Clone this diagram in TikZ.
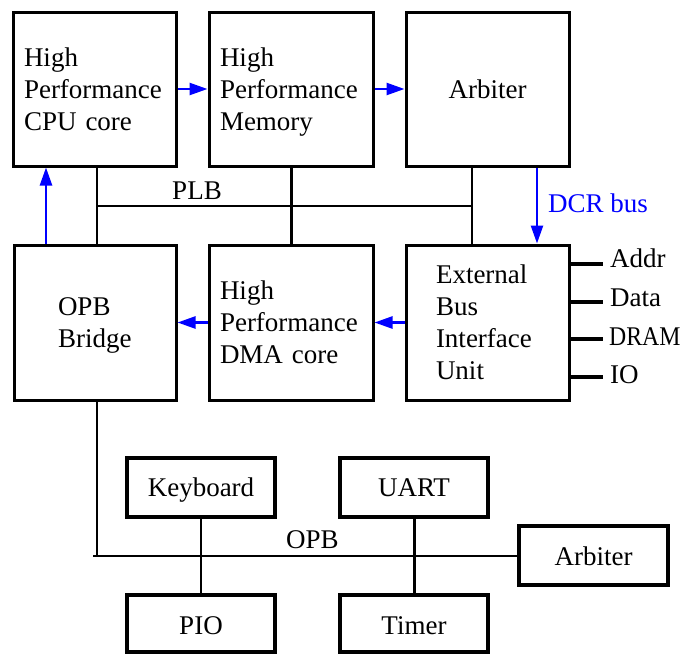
\documentclass[tikz,border=0pt]{standalone}
\usepackage{fontspec}
\setmainfont{Liberation Serif}
\usetikzlibrary{arrows.meta}
\begin{document}
\begin{tikzpicture}[x=1pt,y=-1pt,
  box/.style={draw, rectangle, line width=3pt, inner ysep=0pt,
    font=\fontsize{27}{32}\selectfont},
  onebox/.style={box, text depth=0pt},
  topbox/.style={box, minimum width=163pt, minimum height=154pt},
  midbox/.style={box, minimum width=163pt, minimum height=155pt},
  smallbox/.style={onebox, line width=3.5pt, minimum width=148pt, minimum height=59pt},
  lbl/.style={inner sep=0pt, font=\fontsize{27}{32}\selectfont},
  bus/.style={line width=2pt},
  stub/.style={line width=4pt},
  barrow/.style={draw=blue, line width=2.5pt, -{Triangle[length=18pt,width=12pt]}, blue},
]
\useasboundingbox (0,0) rectangle (683,654);

% top row
\node[topbox, text width=141pt, inner xsep=11pt, align=left] (cpu) at (94.5,89) {High\\Performance\\CPU core};
\node[topbox, minimum width=164pt, text width=142pt, inner xsep=11pt, align=left] (mem) at (291,89) {High\\Performance\\\smash{Memory}};
\node[topbox, text depth=0pt] (arb) at (487.5,89) {Arbiter};

% middle row
\node[midbox, minimum width=162pt, text width=74pt, inner xsep=44pt, align=left] (opb) at (95,322.5) {OPB\\\smash{Bridge}};
\node[midbox, minimum width=164pt, text width=142pt, inner xsep=11pt, align=left] (dma) at (291,322.5) {High\\Performance\\DMA core};
\node[midbox, text width=103pt, inner xsep=30pt, align=left] (ebiu) at (487.5,322.5) {External\\Bus\\Interface\\Unit};

% bottom
\node[smallbox] (kb) at (201,487.5) {Keyboard};
\node[smallbox] (uart) at (414,487.5) {UART};
\node[smallbox, minimum height=57pt] (pio) at (201,623.5) {\raisebox{-4pt}{PIO}};
\node[smallbox, minimum height=57pt] (timer) at (414,623.5) {\raisebox{-4pt}{Timer}};
\node[smallbox, minimum width=149pt] (arb2) at (593.5,555.5) {\raisebox{-2pt}{Arbiter}};

% PLB
\coordinate (plbL) at (97,206);
\coordinate (plbR) at (472,206);
\coordinate (dcrx) at (537,206);
\coordinate (upx) at (46,206);
\draw[bus] (plbL) -- (plbR);
\draw[bus] (plbL |- cpu.south) -- (plbL |- opb.north);
\draw[bus, line width=3pt] (mem.south) -- (dma.north);
\draw[bus] (plbR |- arb.south) -- (plbR |- ebiu.north);
\node[lbl, anchor=base] (plb) at (197,199) {PLB};

% blue arrows
\draw[barrow] (cpu.east) -- (mem.west);
\draw[barrow] (mem.east) -- (arb.west);
\draw[barrow] (ebiu.west) -- (dma.east);
\draw[barrow] (dma.west) -- (opb.east);
\draw[barrow] (upx |- opb.north) -- (upx |- cpu.south);
\draw[barrow] (dcrx |- arb.south) -- (dcrx |- ebiu.north);
\node[lbl, anchor=base west, text=blue] (dcr) at (548,212) {DCR bus};

% EBIU stubs
\node[lbl, anchor=base west] (addr) at (610,267) {Addr};
\node[lbl, anchor=base west] (data) at (610,306) {Data};
\node[lbl, anchor=base west] (dram) at (609,345) {\scalebox{0.88}[1]{DRAM}};
\node[lbl, anchor=base west] (io) at (610,383) {IO};
\coordinate (sa) at (603,264);
\coordinate (sd) at (603,302);
\coordinate (sr) at (603,339);
\coordinate (si) at (603,377);
\draw[stub] (ebiu.east |- sa) -- (sa);
\draw[stub] (ebiu.east |- sd) -- (sd);
\draw[stub] (ebiu.east |- sr) -- (sr);
\draw[stub] (ebiu.east |- si) -- (si);

% OPB
\coordinate (opbL) at (97,556);
\coordinate (opbL0) at (93,556);
\draw[bus, line width=2.5pt] (plbL |- opb.south) -- (opbL);
\draw[bus, line width=2.5pt] (opbL0) -- (arb2.west |- opbL);
\draw[bus, line width=2.5pt] (kb.south) -- (pio.north);
\draw[bus, line width=3pt] (uart.south) -- (timer.north);
\node[lbl, anchor=base west] (opblbl) at (286,548) {OPB};
\end{tikzpicture}
\end{document}
